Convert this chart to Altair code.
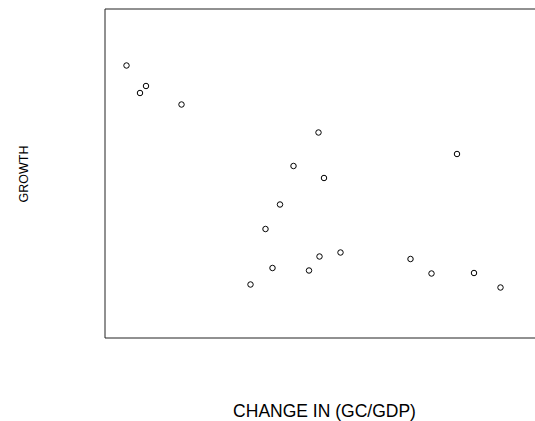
import altair as alt
import pandas as pd

# Scatter of GDP growth against the change in government consumption share
change_gc_gdp = [0.43, 0.70, 0.82, 1.53, 4.27, 3.77, 4.38, 3.50, 3.21, 3.35,
                 2.91, 4.08, 4.29, 4.71, 7.04, 6.11, 6.53, 7.38, 7.91]
growth = [5.45, 4.90, 5.04, 4.67, 4.11, 3.44, 3.20, 2.67, 2.18, 1.40,
          1.07, 1.35, 1.63, 1.71, 3.68, 1.58, 1.29, 1.30, 1.01]

x_domain = [0, 8.6]
y_domain = [0, 6.58]

W, H = 430, 329
FONT = "Liberation Sans"

df = pd.DataFrame({"change": change_gc_gdp, "growth": growth})

x_enc = alt.X(
    "change:Q",
    scale=alt.Scale(domain=x_domain, nice=False, zero=False),
    axis=alt.Axis(title="CHANGE IN (GC/GDP)", labels=False, ticks=False,
                  domain=False, grid=False, titleX=219, titleY=78,
                  titleBaseline="alphabetic", titleFontSize=17.5,
                  titleFont=FONT, titleFontWeight="normal", titleColor="black"),
)
y_enc = alt.Y(
    "growth:Q",
    scale=alt.Scale(domain=y_domain, nice=False, zero=False),
    axis=alt.Axis(title="GROWTH", labels=False, ticks=False,
                  domain=False, grid=False, titleX=-78, titleY=H / 2,
                  titleAngle=270, titleAlign="center",
                  titleBaseline="alphabetic", titleFontSize=12.5,
                  titleFont=FONT, titleFontWeight="normal", titleColor="black"),
)

points = alt.Chart(df).mark_point(
    shape="circle", filled=False, size=30, color="black", strokeWidth=1, opacity=1
).encode(x=x_enc, y=y_enc)

# Frame on the top, left and bottom of the plotting region
frame_df = pd.DataFrame({"k": [0]})
frame = alt.Chart(frame_df)
top = frame.mark_rule(color="#222222", strokeWidth=1).encode(
    x=alt.value(0), x2=alt.value(W + 5), y=alt.value(0))
left = frame.mark_rule(color="#222222", strokeWidth=1).encode(
    x=alt.value(0), y=alt.value(0), y2=alt.value(H))
bottom = frame.mark_rule(color="#222222", strokeWidth=1).encode(
    x=alt.value(0), x2=alt.value(W + 5), y=alt.value(H))

chart = alt.layer(points, top, left, bottom).properties(
    width=W,
    height=H,
    autosize=alt.AutoSizeParams(type="none"),
    padding={"left": 105, "top": 9, "right": 0, "bottom": 83},
    background="white",
).configure_view(stroke=None)

chart.save("out.html", embed_options={"renderer": "svg", "actions": False})
